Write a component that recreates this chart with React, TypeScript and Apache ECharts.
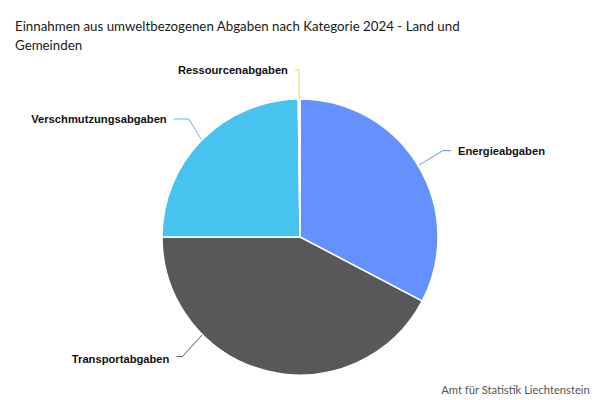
import React, { useEffect, useRef } from "react";
import * as echarts from "echarts";

const categories = ["Energieabgaben", "Transportabgaben", "Verschmutzungsabgaben", "Ressourcenabgaben"];
const values = [32.7, 42.3, 24.8, 0.2];
const colors = ["#6591FF", "#58585A", "#47C3F0", "#F2D46F"];
const titleText = "Einnahmen aus umweltbezogenen Abgaben nach Kategorie 2024 - Land und Gemeinden";
const sourceText = "Amt für Statistik Liechtenstein";

const CX = 300;
const CY = 237;
const R = 138;
const LEN2: Record<number, number> = { 0: 8, 2: 15, 3: 4 };

export default function App() {
  const ref = useRef<HTMLDivElement>(null);
  useEffect(() => {
    if (!ref.current) return;
    const chart = echarts.init(ref.current, null, { renderer: "svg" });
    chart.setOption({
      animation: false,
      backgroundColor: "#ffffff",
      title: {
        text: titleText,
        left: 10,
        top: 11,
        textStyle: {
          fontFamily: "Lato",
          fontSize: 13.3,
          fontWeight: "normal",
          color: "#1a1a1a",
          width: 500,
          overflow: "break",
          lineHeight: 19,
        },
      },
      graphic: [
        {
          type: "text",
          right: 10,
          bottom: 5,
          style: {
            text: sourceText,
            fontFamily: "Lato",
            fontSize: 11.2,
            fill: "#555555",
          },
        },
      ],
      series: [
        {
          type: "pie",
          center: [CX, CY],
          radius: R,
          startAngle: 90,
          clockwise: true,
          itemStyle: { borderColor: "#ffffff", borderWidth: 1.5 },
          label: {
            show: true,
            formatter: "{b}",
            fontFamily: "Liberation Sans",
            fontWeight: "bold",
            fontSize: 11.2,
            color: "#111111",
            distanceToLabelLine: 7,
          },
          labelLine: { length: 29, length2: 9, lineStyle: { width: 1 } },
          labelLayout: (params: any) => {
            if (params.dataIndex !== 1) return {};
            const a = (225 * Math.PI) / 180;
            const p0x = CX + R * Math.sin(a);
            const p0y = CY - R * Math.cos(a);
            const p1x = p0x - 20;
            const p1y = p0y + 22;
            const p2x = p1x - 6;
            return {
              x: p2x - 7,
              y: p1y + 2,
              align: "right",
              verticalAlign: "middle",
              labelLinePoints: [
                [p0x, p0y],
                [p1x, p1y],
                [p2x, p1y],
              ],
            };
          },
          data: categories.map((c, i) => ({
            name: c,
            value: values[i],
            itemStyle: { color: colors[i] },
            labelLine: LEN2[i] != null ? { length2: LEN2[i] } : undefined,
          })),
        },
      ],
    });
    return () => chart.dispose();
  }, []);
  return <div ref={ref} style={{ width: 600, height: 400, position: "absolute", left: 0, top: 0 }} />;
}
